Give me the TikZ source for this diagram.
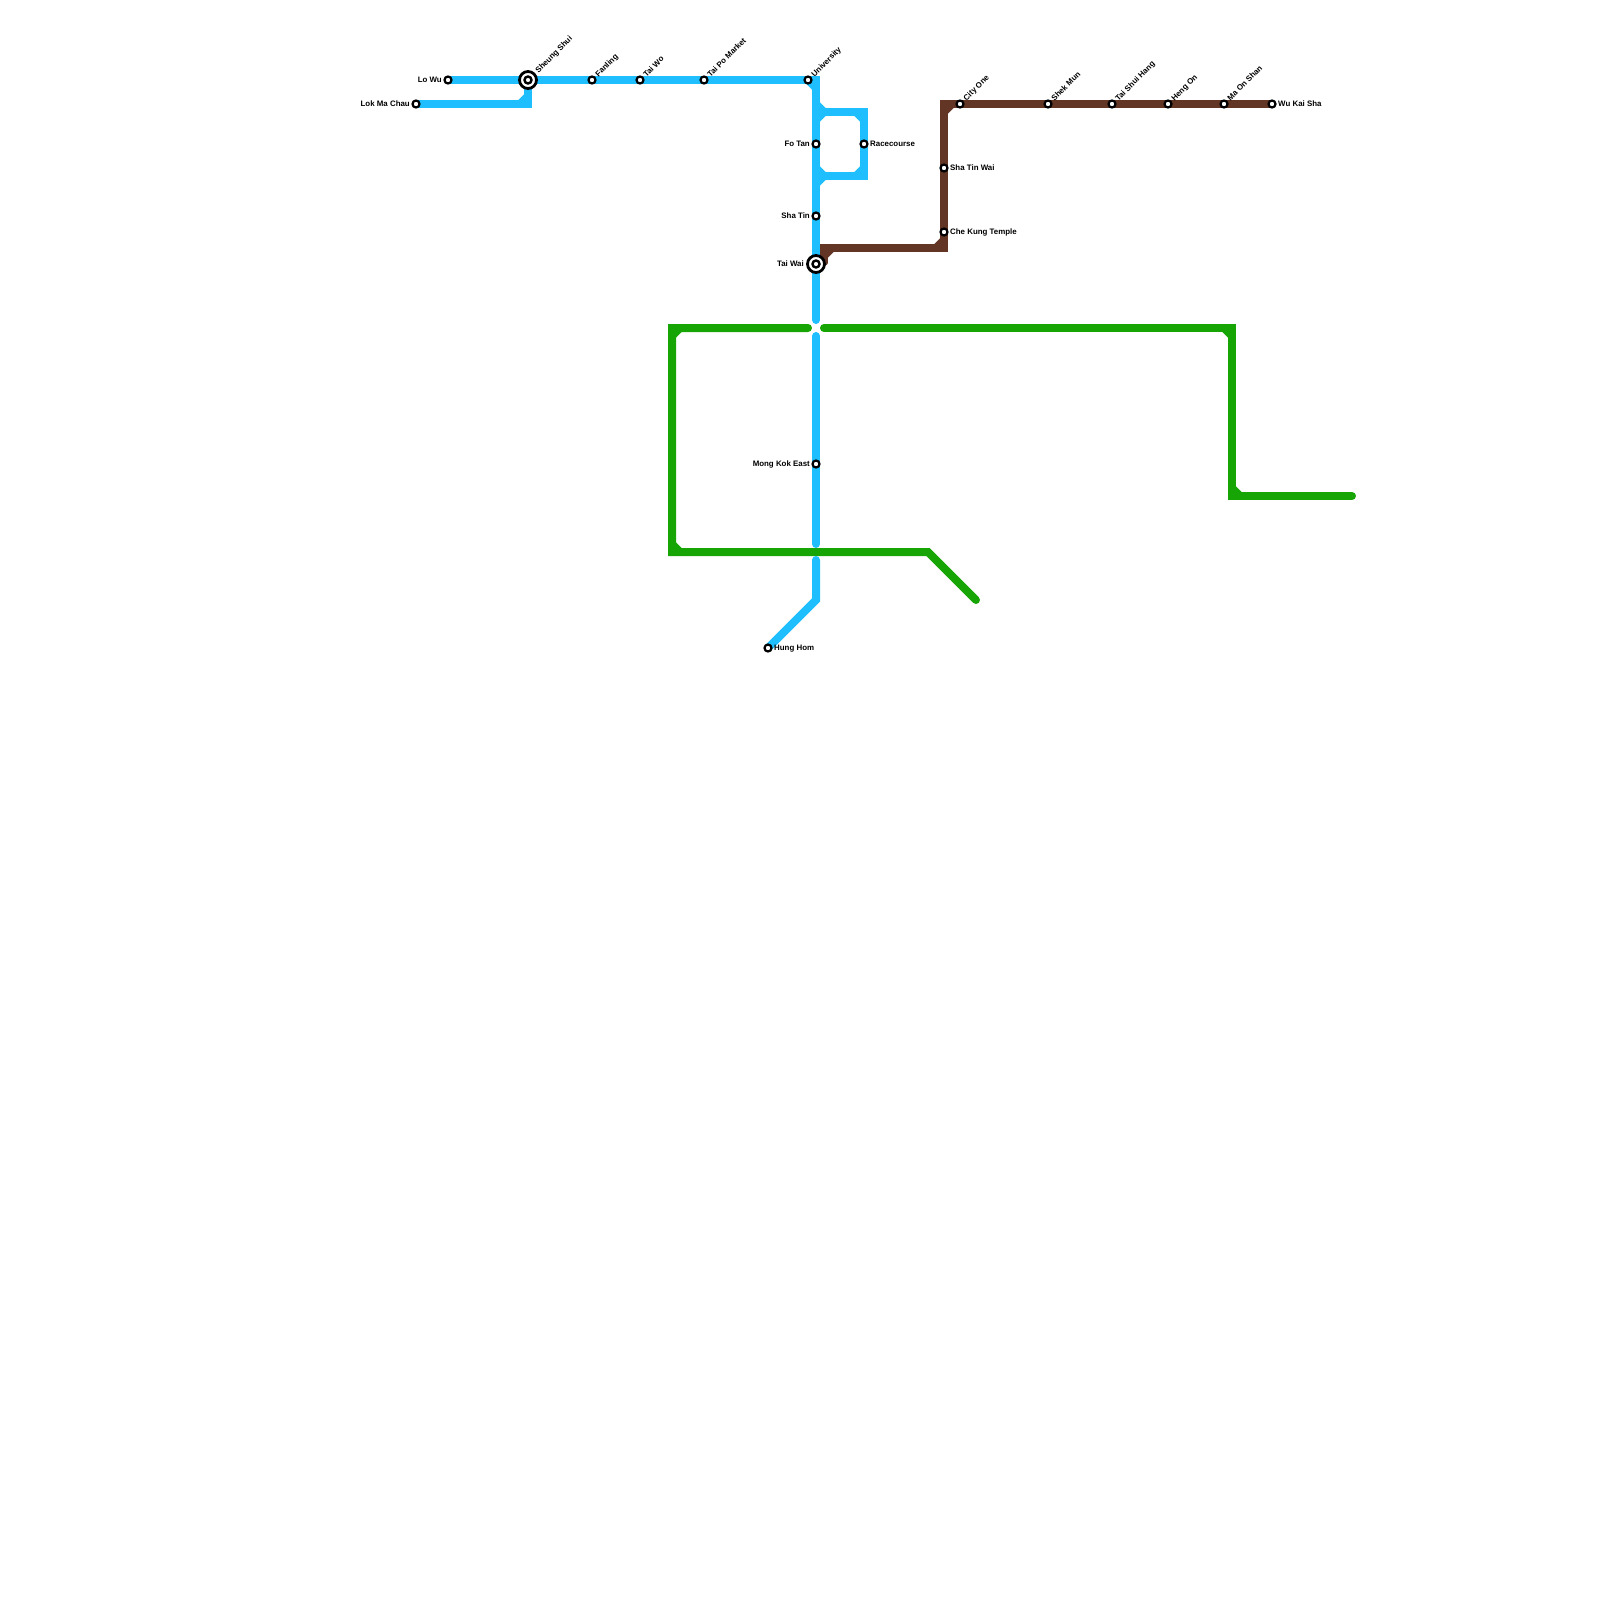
\documentclass[tikz,border=0pt]{standalone}
\usepackage{fontspec}
\setmainfont{Liberation Sans}
\usetikzlibrary{backgrounds}
\definecolor{eastblue}{HTML}{1EBEFF}
\definecolor{westgreen}{HTML}{17A505}
\definecolor{mosbrown}{HTML}{623525}
\begin{document}
\begin{tikzpicture}[x=1pt, y=-1pt, font=\fontsize{7.9}{9}\selectfont\bfseries,
  stn/.style={circle, draw=black, line width=2.2pt, fill=white, minimum size=7pt, inner sep=0pt},
  stnin/.style={stn, line width=2.4pt},
  ichg/.style={stn, line width=2.8pt, minimum size=17pt},
  ln/.style={line width=8pt, line cap=round, miter limit=10},
  eln/.style={ln, eastblue},
  wln/.style={ln, westgreen},
  mln/.style={ln, mosbrown},
  lbl/.style={inner sep=0pt, text height=6pt, text depth=2pt},
  lblL/.style={lbl, anchor=east},
  lblR/.style={lbl, anchor=west},
  lblD/.style={lbl, anchor=west, rotate=45},
]
  \useasboundingbox (0,0) rectangle (1600,1600);

  % East Rail stations
  \node[stn] (loWu) at (448,80) {};
  \node[lblL] (loWuLbl) at (442,80.5) {Lo Wu};
  \node[stn] (lokMaChau) at (416,104) {};
  \node[lblL] (lokMaChauLbl) at (410,104.5) {Lok Ma Chau};
  \node[ichg] (sheungShui) at (528,80) {};
  \node[stnin] (sheungShuiIn) at (528,80) {};
  \node[lblD] (sheungShuiLbl) at (537,72) {Sheung Shui};
  \node[stn] (fanling) at (592,80) {};
  \node[lblD] (fanlingLbl) at (597,76) {Fanling};
  \node[stn] (taiWo) at (640,80) {};
  \node[lblD] (taiWoLbl) at (645,76) {Tai Wo};
  \node[stn] (taiPoMarket) at (704,80) {};
  \node[lblD] (taiPoMarketLbl) at (709,76) {Tai Po Market};
  \node[stn] (university) at (808,80) {};
  \node[lblD] (universityLbl) at (813,76) {University};
  \node[stn] (foTan) at (816,144) {};
  \node[lblL] (foTanLbl) at (810,144.5) {Fo Tan};
  \node[stn] (racecourse) at (864,144) {};
  \node[lblR] (racecourseLbl) at (870,144.5) {Racecourse};
  \node[stn] (shaTin) at (816,216) {};
  \node[lblL] (shaTinLbl) at (810,216.5) {Sha Tin};
  \node[ichg] (taiWai) at (816,264) {};
  \node[stnin] (taiWaiIn) at (816,264) {};
  \node[lblL] (taiWaiLbl) at (804,264.5) {Tai Wai};
  \node[stn] (mongKokEast) at (816,464) {};
  \node[lblL] (mongKokEastLbl) at (810,464.5) {Mong Kok East};
  \node[stn] (hungHom) at (768,648) {};
  \node[lblR] (hungHomLbl) at (774,648.5) {Hung Hom};

  % Ma On Shan stations
  \node[stn] (cheKungTemple) at (944,232) {};
  \node[lblR] (cheKungTempleLbl) at (950,232.5) {Che Kung Temple};
  \node[stn] (shaTinWai) at (944,168) {};
  \node[lblR] (shaTinWaiLbl) at (950,168.5) {Sha Tin Wai};
  \node[stn] (cityOne) at (960,104) {};
  \node[lblD] (cityOneLbl) at (965,100) {City One};
  \node[stn] (shekMun) at (1048,104) {};
  \node[lblD] (shekMunLbl) at (1053,100) {Shek Mun};
  \node[stn] (taiShuiHang) at (1112,104) {};
  \node[lblD] (taiShuiHangLbl) at (1117,100) {Tai Shui Hang};
  \node[stn] (hengOn) at (1168,104) {};
  \node[lblD] (hengOnLbl) at (1173,100) {Heng On};
  \node[stn] (maOnShan) at (1224,104) {};
  \node[lblD] (maOnShanLbl) at (1229,100) {Ma On Shan};
  \node[stn] (wuKaiSha) at (1272,104) {};
  \node[lblR] (wuKaiShaLbl) at (1278,104.5) {Wu Kai Sha};

  % bends and free ends
  \coordinate (eTop) at (816,80);
  \coordinate (eGapA) at (816,320);
  \coordinate (eGapB) at (816,336);
  \coordinate (eGapC) at (816,544);
  \coordinate (eGapD) at (816,560);
  \coordinate (eBend) at (816,600);
  \coordinate (lmcBend) at (528,104);
  \coordinate (loopA) at (816,112);
  \coordinate (loopB) at (864,112);
  \coordinate (loopC) at (864,176);
  \coordinate (loopD) at (816,176);
  \coordinate (mStart) at (824,262);
  \coordinate (mA) at (824,248);
  \coordinate (mB) at (944,248);
  \coordinate (mC) at (944,104);
  \coordinate (wA) at (808,328);
  \coordinate (wB) at (672,328);
  \coordinate (wC) at (672,552);
  \coordinate (wD) at (928,552);
  \coordinate (wE) at (976,600);
  \coordinate (wF) at (824,328);
  \coordinate (wG) at (1232,328);
  \coordinate (wH) at (1232,496);
  \coordinate (wI) at (1352,496);

  \begin{scope}[on background layer]
    \draw[mln] (taiWai.center) -- (mStart);
    \draw[mln] (mStart) -- (mA) -- (mB) -- (mC) -- (wuKaiSha.center);
    \draw[mln] (mA) ++(0,8) -- ++(8,-8);
    \draw[mln] (mB) ++(-8,0) -- ++(8,-8);
    \draw[mln] (mC) ++(0,8) -- ++(8,-8);

    \draw[wln] (wA) -- (wB) -- (wC) -- (wD) -- (wE);
    \draw[wln] (wF) -- (wG) -- (wH) -- (wI);
    \draw[wln] (wB) ++(0,8) -- ++(8,-8);
    \draw[wln] (wC) ++(0,-8) -- ++(8,8);
    \draw[wln] (wG) ++(-8,0) -- ++(8,8);
    \draw[wln] (wH) ++(0,-8) -- ++(8,8);

    \draw[eln] (loWu.center) -- (eTop) -- (eGapA);
    \draw[eln] (eGapB) -- (eGapC);
    \draw[eln] (eGapD) -- (eBend) -- (hungHom.center);
    \draw[eln] (lokMaChau.center) -- (lmcBend) -- (sheungShui.center);
    \draw[eln] (loopA) -- (loopB) -- (loopC) -- (loopD);
    \draw[eln] (eTop) ++(-8,0) -- ++(8,8);
    \draw[eln] (lmcBend) ++(-8,0) -- ++(8,-8);
    \draw[eln] (loopA) ++(0,-8) -- ++(8,8) -- ++(-8,8);
    \draw[eln] (loopD) ++(0,-8) -- ++(8,8) -- ++(-8,8);
    \draw[eln] (loopB) ++(-8,0) -- ++(8,8);
    \draw[eln] (loopC) ++(-8,0) -- ++(8,-8);
  \end{scope}
\end{tikzpicture}
\end{document}
